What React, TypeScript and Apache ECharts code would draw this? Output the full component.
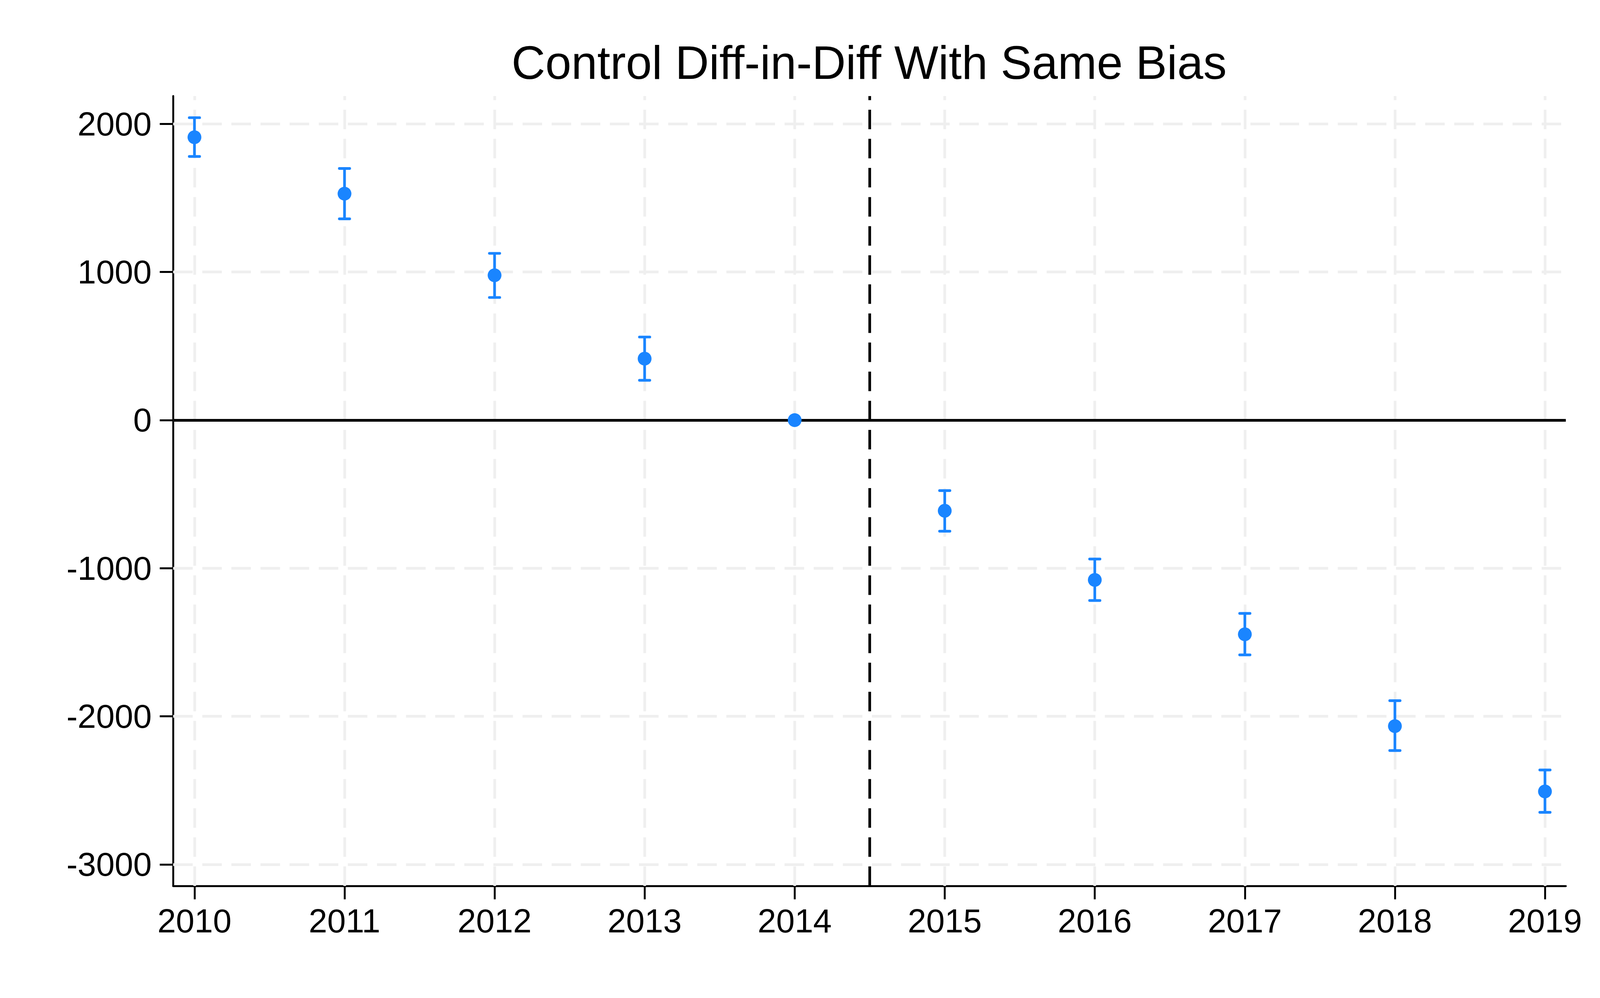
import { useEffect, useRef } from 'react';
import * as echarts from 'echarts';

// event-study estimates
const years = [2010, 2011, 2012, 2013, 2014, 2015, 2016, 2017, 2018, 2019];
const estimates = [1910, 1529, 978, 415, 0, -612, -1079, -1446, -2066, -2507];
const ciLow = [1780, 1359, 828, 269, 0, -750, -1218, -1585, -2231, -2648];
const ciHigh = [2042, 1699, 1126, 561, 0, -476, -938, -1305, -1894, -2362];
const yTicks = [-3000, -2000, -1000, 0, 1000, 2000];
const treatmentLine = 2014.5;
const title = 'Control Diff-in-Diff With Same Bias';

const BLUE = '#1A85FF';
const GRID = '#efefef';
const FONT = '"Liberation Sans", Arial, Helvetica, sans-serif';

const App = () => {
  const chartRef = useRef<HTMLDivElement>(null);

  useEffect(() => {
    document.body.style.margin = '0';
    document.body.style.overflow = 'hidden';
    if (!chartRef.current) return;
    const chart = echarts.init(chartRef.current, undefined, { renderer: 'svg' });

    // layout was measured on a 4260x2556 picture, scale it to the real viewport
    const W = chartRef.current.clientWidth;
    const H = chartRef.current.clientHeight;
    const sx = W / 4260;
    const sy = H / 2556;
    const s = (sx + sy) / 2;

    const option = {
      animation: false,
      backgroundColor: '#fff',
      textStyle: { fontFamily: FONT },
      graphic: [
        {
          type: 'text',
          x: 2314 * sx,
          y: 100 * sy,
          style: {
            text: title,
            fill: '#000',
            font: `${122 * s}px ${FONT}`,
            textAlign: 'center',
            textVerticalAlign: 'top'
          }
        }
      ],
      grid: {
        left: 461 * sx,
        right: 91 * sx,
        top: 246 * sy,
        bottom: 287 * sy,
        containLabel: false,
        outerBoundsMode: 'none'
      },
      xAxis: {
        type: 'value',
        min: 2009.858,
        max: 2019.139,
        axisLine: { onZero: false, lineStyle: { color: '#000', width: 5 * s } },
        axisTick: { customValues: years, length: 35 * s, lineStyle: { color: '#000', width: 5 * s } },
        axisLabel: {
          customValues: years,
          formatter: (v: number) => String(Math.round(v)),
          fontSize: 87 * s,
          fontFamily: FONT,
          color: '#000',
          margin: 48 * s
        },
        splitLine: { show: false }
      },
      yAxis: {
        type: 'value',
        min: -3145,
        max: 2188,
        axisLine: { show: true, onZero: false, lineStyle: { color: '#000', width: 5 * s } },
        axisTick: { show: true, customValues: yTicks, length: 35 * s, lineStyle: { color: '#000', width: 5 * s } },
        axisLabel: {
          customValues: yTicks,
          formatter: (v: number) => String(Math.round(v)),
          fontSize: 87 * s,
          fontFamily: FONT,
          color: '#000',
          margin: 56 * s
        },
        splitLine: { show: false }
      },
      series: [
        {
          // carrier for the dashed grid lines
          type: 'line',
          data: [],
          z: 1,
          silent: true,
          markLine: {
            z: 1,
            silent: true,
            symbol: 'none',
            label: { show: false },
            lineStyle: { color: GRID, width: 7 * s, type: [51 * s, 25 * s] },
            data: [
              ...years.map((y) => ({ xAxis: y })),
              ...yTicks.map((v) => ({ yAxis: v }))
            ]
          }
        },
        {
          type: 'line',
          data: [],
          z: 2,
          silent: true,
          markLine: {
            z: 2,
            silent: true,
            symbol: 'none',
            label: { show: false },
            data: [
              { yAxis: 0, lineStyle: { color: '#000', width: 7 * s, type: 'solid' } },
              { xAxis: treatmentLine, lineStyle: { color: '#000', width: 7 * s, type: [51 * s, 25 * s] } }
            ]
          }
        },
        {
          type: 'custom',
          z: 10,
          silent: true,
          data: years.map((y, i) => [y, ciLow[i], ciHigh[i]]),
          encode: { x: 0, y: [1, 2] },
          renderItem: (_params: any, api: any) => {
            const x = api.value(0);
            const lo = api.value(1);
            const hi = api.value(2);
            if (lo === hi) return { type: 'group', children: [] };
            const top = api.coord([x, hi]);
            const bot = api.coord([x, lo]);
            const lw = 7 * s;
            const half = 13.5 * s;
            const capStyle = { stroke: BLUE, lineWidth: lw, lineCap: 'round', lineDash: null };
            return {
              type: 'group',
              children: [
                { type: 'line', shape: { x1: top[0], y1: top[1], x2: bot[0], y2: bot[1] }, style: { stroke: BLUE, lineWidth: lw, lineDash: null } },
                { type: 'line', shape: { x1: top[0] - half, y1: top[1], x2: top[0] + half, y2: top[1] }, style: capStyle },
                { type: 'line', shape: { x1: bot[0] - half, y1: bot[1], x2: bot[0] + half, y2: bot[1] }, style: capStyle }
              ]
            };
          }
        },
        {
          type: 'scatter',
          z: 11,
          symbol: 'circle',
          symbolSize: 36 * s,
          itemStyle: { color: BLUE, opacity: 1 },
          data: years.map((y, i) => [y, estimates[i]])
        }
      ]
    };

    chart.setOption(option);

    const handleResize = () => chart.resize();
    window.addEventListener('resize', handleResize);
    return () => {
      window.removeEventListener('resize', handleResize);
      chart.dispose();
    };
  }, []);

  return <div ref={chartRef} style={{ width: '100vw', height: '100vh' }} />;
};

export default App;
